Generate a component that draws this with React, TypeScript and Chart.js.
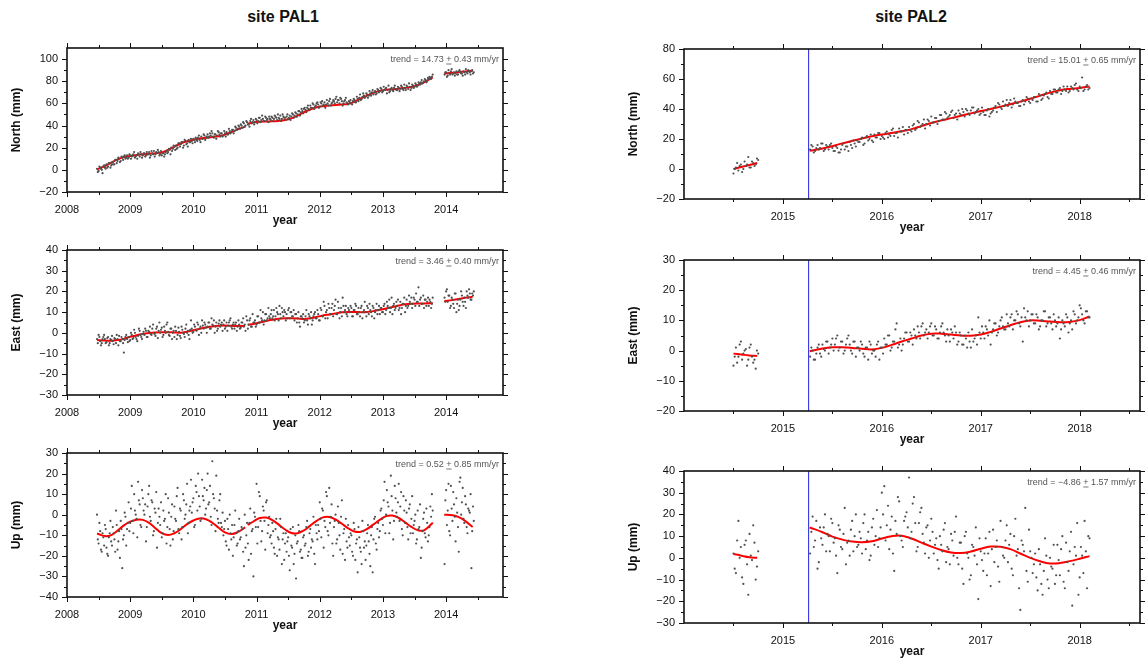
import React, { useEffect, useRef } from 'react';
import { Chart, registerables } from 'chart.js';
Chart.register(...registerables);

// ---------------- DATA ----------------
const STEP = 0.025; // sampling interval of each plotted solution list (yr)
const HALF = STEP / 2; // second, interleaved list

// PAL1 epochs
const pal1StartA = 2008.475;
const pal1StartB = 2013.975;
// PAL2 epochs
const pal2StartA = 2014.5;
const pal2StartB = 2015.275;
const pal2OffsetEpoch = 2015.26;

const pal1YearTicks = [2008, 2009, 2010, 2011, 2012, 2013, 2014];
const pal1YearMinor = [2008.5, 2009.5, 2010.5, 2011.5, 2012.5, 2013.5, 2014.5];
const pal2YearTicks = [2015, 2016, 2017, 2018];
const pal2YearMinor = [2014.5, 2015.5, 2016.5, 2017.5, 2018.5];

const pal1NorthTicks = [-20, 0, 20, 40, 60, 80, 100];
const pal1EastTicks = [-30, -20, -10, 0, 10, 20, 30, 40];
const pal1UpTicks = [-40, -30, -20, -10, 0, 10, 20, 30];
const pal2NorthTicks = [-20, 0, 20, 40, 60, 80];
const pal2EastTicks = [-20, -10, 0, 10, 20, 30];
const pal2UpTicks = [-30, -20, -10, 0, 10, 20, 30, 40];

const trendPal1 = ['14.73', '0.43', '3.46', '0.40', '0.52', '0.85'];
const trendPal2 = ['15.01', '0.65', '4.45', '0.46', '\u22124.86', '1.57'];

// PAL1 scatter (mm)
const pal1NorthA = [
  1, -1, 2, 0, 3, 2, 5, 3, 6, 4,
  7, 5, 9, 8, 10, 8, 11, 12, 10, 13,
  11, 13, 12, 14, 11, 13, 15, 12, 14, 13,
  15, 13, 14, 16, 13, 15, 17, 14, 15, 16,
  14, 13, 15, 14, 17, 16, 18, 20, 19, 21,
  22, 20, 24, 23, 25, 22, 26, 24, 27, 25,
  26, 28, 25, 27, 29, 27, 30, 28, 31, 29,
  32, 30, 31, 33, 29, 32, 31, 34, 30, 33,
  31, 33, 34, 32, 35, 34, 36, 35, 38, 37,
  39, 41, 38, 42, 40, 43, 41, 44, 42, 45,
  43, 45, 44, 47, 45, 46, 44, 47, 46, 48,
  45, 47, 46, 48, 45, 47, 49, 46, 48, 47,
  48, 46, 49, 48, 50, 49, 51, 50, 53, 52,
  53, 55, 54, 56, 55, 58, 56, 59, 57, 60,
  59, 57, 60, 58, 61, 59, 60, 62, 58, 61,
  62, 64, 61, 63, 65, 62, 60, 63, 61, 59,
  61, 60, 62, 63, 61, 64, 65, 63, 66, 67,
  66, 68, 67, 69, 70, 68, 71, 69, 72, 71,
  73, 71, 72, 74, 72, 70, 73, 72, 74, 73,
  72, 74, 73, 75, 72, 74, 76, 73, 75, 74,
  76, 75, 77, 76, 78, 79, 78, 80, 81, 80,
  82, 83, 84,
];
const pal1NorthA2 = [
  -2, 3, 1, -3, 4, 1, 2, 6, 2, 5,
  5, 9, 6, 11, 7, 12, 9, 13, 11, 10,
  14, 10, 13, 16, 12, 10, 14, 16, 11, 15,
  12, 16, 14, 11, 17, 14, 12, 16, 18, 13,
  17, 15, 12, 16, 15, 19, 14, 17, 22, 18,
  19, 24, 21, 25, 20, 27, 23, 21, 25, 28,
  24, 27, 29, 26, 31, 25, 28, 32, 27, 30,
  29, 33, 35, 30, 32, 28, 35, 32, 33, 30,
  35, 30, 32, 37, 33, 36, 33, 39, 36, 40,
  37, 40, 43, 39, 44, 41, 39, 46, 43, 41,
  46, 42, 47, 43, 49, 44, 48, 45, 43, 46,
  48, 44, 49, 47, 50, 46, 44, 50, 47, 45,
  50, 47, 45, 51, 47, 52, 48, 53, 49, 55,
  51, 56, 52, 58, 54, 56, 60, 55, 58, 61,
  56, 61, 62, 59, 56, 63, 58, 64, 60, 63,
  60, 66, 63, 60, 64, 58, 62, 65, 60, 62,
  63, 59, 64, 61, 66, 62, 68, 64, 69, 65,
  69, 65, 71, 67, 72, 70, 68, 73, 70, 74,
  70, 75, 73, 69, 76, 71, 74, 71, 76, 72,
  75, 71, 76, 73, 77, 72, 75, 78, 72, 77,
  74, 78, 75, 79, 77, 81, 79, 82, 79, 83,
  84, 82, 86,
];
const pal1NorthB = [86, 88, 85, 87, 89, 86, 88, 87, 86, 89, 88, 87, 89, 86, 88, 90, 88, 89, 87];
const pal1NorthB2 = [88, 84, 90, 86, 91, 87, 85, 89, 86, 90, 87, 85, 88, 91, 87, 89, 86, 90, 88];

const pal1EastA = [
  -3, -1, -4, -5, -2, -3, -4.5, -2, -5, -3.5,
  -4, -2.5, -5, -3, -1.5, -4, -3, -9.5, -2, -3,
  -2, -3.5, -1, -2.5, 0, -3, -1.5, 1, -2, -0.5,
  -1, 1, -2, 0.5, -0.5, 2, 0, -1.5, 3, 1,
  0, 2.5, -1, 1, 4, 0.5, -1.5, 2, 0, -2,
  1, -1, 0.5, -2.5, 1.5, -0.5, 2, 0, -1, 1.5,
  2, 0.5, 3, 1, 4, 2, 0, 3.5, 5, 2.5,
  3, 5, 2, 4, 6, 3, 1, 4.5, 3, 5,
  4, 2, 5, 3.5, 6, 3, 4, 2, 5, 3,
  4, 2.5, 5, 3, 1, 6, 4, 7, 3, 5,
  6, 4, 8, 5, 7, 10, 6, 9, 7, 8,
  9, 7, 11, 8, 10, 6, 9, 12, 8, 10,
  9, 11, 7, 10, 8, 6, 9, 7, 5, 8,
  7, 5, 8, 6, 9, 7, 4, 8, 10, 7,
  9, 6, 11, 8, 13, 10, 7, 12, 9, 14,
  11, 16, 9, 12, 10, 8, 13, 11, 9, 12,
  10, 12, 8, 11, 13, 9, 10, 12, 7, 11,
  10, 13, 9, 11, 8, 12, 10, 14, 11, 9,
  12, 10, 14, 11, 13, 16, 12, 9, 14, 12,
  13, 11, 15, 12, 14, 10, 16, 13, 15, 17,
  14, 16, 19, 15, 13, 17, 14, 12, 16, 15,
  13, 15, 14,
];
const pal1EastA2 = [
  -5, -2, -6, -3, -1, -5, -2.5, -6, -3, -1.5,
  -5.5, -3, -1, -6, -4, -2, -5, -3.5, -1, -4.5,
  -4, 0, -3, 1.5, -2, -4, 2, -1, -3, 0.5,
  2, -2, 1, 3, -1, 4, -0.5, 2, -2.5, 5,
  1.5, -2, 3, 0, 5, -1, 2, -3, 1, 3,
  -3, 2.5, -1.5, 3, 0, -2, 4, 1, -3, 6,
  0, 4, 1.5, 5, -1, 3, 6, 2, 4, 0,
  5, 2, 7, 3.5, 0, 5, 2, 6, 4, 1,
  6, 3, 1, 5, 7, 2, 5, 4, 1, 6,
  2, 5, 7, 4, 8, 2, 6, 3, 9, 5,
  3, 8, 5, 11, 6, 4, 9, 6, 12, 7,
  11, 8, 6, 12, 9, 13, 7, 10, 11, 6,
  7, 12, 10, 8, 11, 9, 5, 10, 3, 8,
  9, 6, 11, 4, 8, 10, 6, 9, 7, 11,
  6, 12, 8, 15, 7, 11, 14, 9, 12, 8,
  13, 9, 15, 7, 12, 17, 10, 13, 8, 11,
  13, 8, 11, 14, 9, 12, 8, 13, 10, 15,
  8, 12, 14, 10, 13, 7, 11, 9, 13, 12,
  10, 13, 9, 15, 12, 10, 17, 13, 11, 15,
  16, 12, 9, 14, 17, 13, 12, 18, 14, 12,
  17, 13, 15, 22, 16, 14, 18, 16, 13, 17,
  16, 12, 17,
];
const pal1EastB = [17, 20, 15, 18, 13, 16, 12, 19, 14, 11, 16, 18, 13, 15, 20, 17, 19, 16, 18];
const pal1EastB2 = [15, 21, 18, 12, 17, 14, 19, 10, 16, 13, 20, 15, 17, 12, 18, 21, 16, 19, 20];

const pal1UpA = [
  0, -14, -8, -18, -11, -5, -16, -20, -9, -13,
  -6, -12, 2, -17, -8, -3, -26, -10, -1, -7,
  6, -4, 14, -9, 2, -2, 16, 5, -6, 8,
  0, -13, 4, 14, -3, 6, -8, 1, -16, 3,
  -5, -11, 2, -2, -14, 8, -7, -1, -12, 4,
  -3, 13, -9, 2, -6, 7, 0, 15, -4, 4,
  1, 8, -5, 11, 20, 4, -2, 9, 13, 3,
  20, 6, -1, 26, 8, -8, 2, -4, 10, -6,
  -10, -3, -15, -7, 0, -12, -20, -5, -9, -14,
  -2, -11, -7, -25, -16, -4, -22, 3, -8, -30,
  -1, 15, -6, 9, -13, 4, -3, 6, -9, -1,
  -10, -4, -16, -7, -20, -12, -2, -24, -9, -14,
  -18, -11, -27, -15, -6, -19, -31, -13, -8, -17,
  -21, -10, -14, -3, -18, -7, -12, -1, -24, -9,
  -5, 6, -11, 2, -3, 11, -8, 13, -1, -14,
  -6, 0, -12, -4, -17, 7, -9, -22, -13, -5,
  -15, -10, -20, -7, -14, -28, -11, -18, -3, -16,
  -22, -9, -13, -25, -6, -12, -1, -17, -4, -8,
  3, -5, 16, 0, 6, -9, 19, 2, -3, 8,
  -1, 15, 4, -7, 9, -4, 1, -12, 5, -2,
  -9, -3, -14, 2, -6, -21, -8, 1, -11, -4,
  -10, 4, 10,
];
const pal1UpA2 = [
  -12, -4, -17, -9, -15, -7, -19, -11, -3, -15,
  -9, -18, -5, -13, -21, -7, -12, 1, -15, -4,
  -8, 3, -3, 10, 0, -11, 7, -5, 12, 2,
  5, -6, 10, -1, 7, -10, 3, 11, -4, -1,
  6, -9, -3, 10, -6, 1, -15, 5, -8, -2,
  9, -7, 3, -12, 10, -2, 5, -9, 2, 17,
  6, -6, 14, 2, 9, -3, 17, 7, 0, 12,
  5, 14, -5, 10, 3, 19, -2, 7, -4, 1,
  -7, -13, -2, -17, -9, -5, -11, 2, -15, -8,
  -12, -6, -18, 0, -10, -14, -4, -19, -7, 1,
  -6, -14, 11, -3, -8, 2, -17, 7, -5, -11,
  -14, -8, -19, -2, -11, -17, -6, -12, -22, -9,
  -13, -20, -7, -16, -24, -10, -14, -5, -18, -21,
  -11, -15, -6, -20, -9, -16, -13, -19, -5, -12,
  -8, -2, 3, -16, -6, 9, -10, -4, 5, -20,
  -3, -14, 4, -10, -1, -19, -7, -2, -16, -11,
  -9, -18, -4, -22, -12, -6, -16, -24, -8, -13,
  -15, -5, -19, -10, -28, -2, -14, -7, -11, 2,
  -2, 7, -9, 12, 4, -4, 9, -12, 14, 1,
  6, -3, 11, -10, 2, 7, -6, 3, -9, 9,
  -5, 0, -12, -7, 5, -16, -2, -9, 3, -13,
  -6, -1, 2,
];
const pal1UpB = [-24, 12, 2, -8, 14, -3, 5, -13, 1, -18, 18, 6, -2, 9, -6, 3, 1, -26, 4];
const pal1UpB2 = [7, -5, 15, -10, 3, 11, -1, 8, -6, 16, 0, 13, -4, 5, -9, 2, 10, -8, -3];

// PAL1 fitted model (red)
const pal1FitT1 = [2008.475, 2008.6, 2008.7, 2008.8, 2008.9, 2009.0, 2009.1, 2009.2, 2009.3, 2009.4, 2009.5, 2009.6, 2009.7, 2009.8, 2009.9, 2010.0, 2010.1, 2010.2, 2010.3, 2010.4, 2010.5, 2010.6, 2010.7, 2010.82];
const pal1FitT2 = [2010.86, 2010.95, 2011.05, 2011.15, 2011.25, 2011.35, 2011.45, 2011.55, 2011.65, 2011.75, 2011.85, 2011.95, 2012.05, 2012.15, 2012.25, 2012.35, 2012.45, 2012.55, 2012.65, 2012.75, 2012.85, 2012.95, 2013.05, 2013.15, 2013.25, 2013.35, 2013.45, 2013.55, 2013.65, 2013.79];
const pal1FitT3 = [2013.97, 2014.1, 2014.2, 2014.3, 2014.42];

const pal1NorthFit1 = [0.5, 3.5, 6.5, 9.5, 11.5, 12.5, 13.3, 14, 14.5, 15, 15.6, 18, 21, 23.8, 25.8, 27.2, 28.3, 29, 29.6, 30.3, 31.8, 34, 36.5, 39];
const pal1NorthFit2 = [41.5, 42.8, 43.5, 43.7, 43.8, 44.2, 45, 46.5, 49, 52, 54.5, 56.5, 57.5, 58, 58.5, 59, 59.5, 61.5, 64.5, 67, 69.5, 71.3, 72.2, 72.8, 73.3, 74, 74.8, 76.5, 79, 83.5];
const pal1NorthFit3 = [87, 87.6, 88.2, 88.8, 89.5];

const pal1EastFit1 = [-3.5, -3.7, -3.8, -3.5, -2.9, -1.9, -1.2, -0.6, -0.1, 0.2, 0.3, 0.3, 0.2, 0.1, 0.6, 1.3, 2.0, 2.6, 3.1, 3.4, 3.5, 3.4, 3.3, 3.4];
const pal1EastFit2 = [3.9, 4.3, 5.0, 5.7, 6.3, 6.8, 7.0, 7.0, 6.9, 6.7, 7.0, 7.7, 8.4, 8.9, 9.4, 9.9, 10.1, 10.1, 10.0, 10.1, 10.5, 11.1, 11.8, 12.5, 13.2, 13.8, 14.1, 14.2, 14.2, 14.3];
const pal1EastFit3 = [15.3, 15.8, 16.3, 16.9, 17.4];

const pal1UpFit1 = [-9.1, -10.4, -9.9, -7.7, -5.2, -3.4, -2.4, -2.5, -4.0, -6.6, -9.0, -9.9, -9.0, -7.0, -4.6, -2.8, -1.8, -2.2, -3.9, -6.3, -8.6, -9.4, -8.5, -6.2];
const pal1UpFit2 = [-5.0, -3.3, -1.6, -1.4, -2.6, -4.8, -7.2, -8.9, -9.0, -7.6, -5.3, -3.0, -1.3, -1.1, -2.3, -4.4, -6.6, -8.2, -8.3, -6.9, -4.7, -2.5, -0.7, -0.4, -1.6, -3.7, -5.9, -7.5, -7.6, -3.9];
const pal1UpFit3 = [0, -0.3, -1.2, -3.0, -6.0];

// PAL2 scatter (mm)
const pal2NorthA = [-3, 1, -1, 3, 0, 2, 8, 1, 4, 3, 6];
const pal2NorthA2 = [0, 4, 2, -2, 5, 3, 1, 5, 2, 7];
const pal2NorthB = [
  13, 15, 12, 16, 14, 17, 13, 15, 16, 14,
  12, 14, 11, 16, 13, 15, 18, 14, 17, 19,
  18, 21, 17, 22, 20, 19, 23, 21, 24, 22,
  20, 25, 23, 26, 22, 24, 27, 25, 23, 26,
  28, 25, 30, 27, 31, 29, 33, 30, 32, 35,
  31, 34, 32, 36, 33, 37, 35, 38, 34, 37,
  39, 36, 38, 40, 37, 39, 41, 38, 40, 37,
  38, 36, 40, 37, 39, 42, 44, 41, 45, 43,
  42, 46, 43, 45, 44, 42, 46, 45, 47, 44,
  46, 48, 45, 49, 47, 50, 48, 52, 50, 53,
  51, 54, 52, 53, 55, 52, 54, 56, 53, 55,
  61, 53, 56, 54,
];
const pal2NorthB2 = [
  16, 11, 14, 13, 17, 12, 16, 13, 17, 12,
  15, 11, 13, 17, 15, 12, 16, 19, 15, 18,
  20, 16, 21, 19, 23, 18, 21, 24, 20, 21,
  24, 21, 22, 27, 24, 21, 25, 28, 26, 24,
  26, 29, 26, 32, 28, 30, 27, 33, 29, 31,
  34, 30, 36, 33, 38, 34, 36, 39, 36, 33,
  37, 40, 35, 39, 36, 41, 37, 39, 36, 41,
  36, 39, 35, 38, 41, 38, 43, 40, 42, 46,
  44, 41, 47, 44, 42, 45, 43, 48, 45, 47,
  48, 45, 50, 46, 49, 51, 47, 50, 53, 51,
  53, 50, 55, 52, 51, 55, 53, 57, 52, 54,
  52, 55, 53,
];
const pal2EastA = [-5, 1, -2, 3, -1, 0.5, -3, 2, -4, -6, -1];
const pal2EastA2 = [-2, -4, 2, -3, 0, -5, 1, -2, -3, 0];
const pal2EastB = [
  -2, 0, -3, 1, -1, 2, 0, 3, 1, 4,
  2, 5, 1, 3, 0, 4, 2, -1, 3, 1,
  0, 2, -2, 1, 3, -1, 0, 2, -3, 1,
  4, 2, 5, 1, 3, 9, 2, 0, 4, 6,
  3, 5, 7, 4, 6, 8, 5, 7, 6, 9,
  5, 7, 4, 8, 6, 3, 5, 7, 4, 6,
  3, 5, 2, 4, 6, 1, 3, 5, 11, 4,
  6, 8, 5, 2, 7, 9, 6, 10, 8, 7,
  9, 11, 7, 10, 12, 8, 3, 11, 13, 10,
  12, 9, 11, 8, 10, 13, 9, 11, 7, 10,
  9, 4, 10, 8, 11, 9, 7, 12, 10, 15,
  12, 9, 13, 11,
];
const pal2EastB2 = [
  1, -3, -1, 2, -2, 0.5, 3, -1, 2, 0,
  4, 0, 3, -1, 2, 5, 0, 3, -2, 1,
  3, -1, 1, -3, 2, 0, -2, 3, 1, -1,
  2, 5, 0, 3, 7, 1, 4, 2, 6, 3,
  6, 2, 5, 8, 4, 9, 6, 4, 8, 5,
  8, 4, 6, 9, 5, 7, 3, 6, 8, 2,
  6, 2, 5, 1, 3, 7, 4, 2, 6, 8,
  4, 7, 10, 6, 9, 5, 8, 11, 7, 12,
  8, 12, 10, 13, 9, 11, 14, 10, 8, 12,
  9, 12, 7, 10, 13, 8, 11, 9, 12, 8,
  11, 7, 9, 12, 6, 10, 13, 9, 11, 14,
  10, 13, 11,
];
const pal2UpA = [2, -7, 17, 5, -12, 8, -17, 1, 15, -10, 3];
const pal2UpA2 = [-5, 8, 0, -9, 6, -3, 11, -1, 7, -4];
const pal2UpB = [
  2, 19, 8, -5, 14, 6, 20, 11, 3, 16,
  9, -7, 13, 4, 23, 7, 1, 17, 10, 5,
  12, 2, 20, 8, -1, 14, 6, 22, 9, 30,
  33, 15, 4, 19, -6, 11, 26, 8, 17, 21,
  37, 12, 28, 3, 16, 23, 7, 14, 0, 18,
  2, 9, -5, 6, 13, -2, 4, 11, 1, 19,
  -3, 7, -12, 12, 0, -8, 5, 14, -19, 3,
  -6, 9, 2, -13, 13, 5, -4, 17, 1, 8,
  -2, 11, -8, 18, 4, -24, 6, 23, -11, 3,
  -7, 2, -15, -3, -17, 9, -10, 0, -5, -12,
  6, -8, 10, -14, -2, 3, -22, 5, 16, -9,
  1, 17, -14, 9,
];
const pal2UpB2 = [
  12, 5, 17, -2, 9, 14, 3, 10, 18, 7,
  1, 15, 5, 11, -3, 8, 13, 3, 20, 6,
  9, 16, 4, 12, 1, 18, 10, 5, 14, 20,
  8, 24, 13, 2, 17, 28, 10, 5, 19, 14,
  9, 25, 16, 5, 21, 11, 2, 15, 8, 12,
  6, -1, 10, 3, 16, 5, -3, 8, 12, 0,
  7, -5, 10, 2, -10, 6, 1, -3, 9, -1,
  2, -8, 12, 4, -2, 8, -11, 5, 0, 15,
  6, -5, 10, 1, -14, 8, 3, -6, 13, 0,
  -3, -9, 4, -12, -6, 1, -14, -4, 6, -8,
  -1, 4, -11, 7, -6, 12, -3, 1, -17, 5,
  -7, 3, 10,
];

// PAL2 fitted model (red)
const pal2FitTA = [2014.5, 2014.58, 2014.66, 2014.74];
const pal2FitTB = [2015.27, 2015.4, 2015.5, 2015.6, 2015.7, 2015.8, 2015.9, 2016.0, 2016.1, 2016.2, 2016.3, 2016.4, 2016.5, 2016.6, 2016.7, 2016.8, 2016.9, 2017.0, 2017.1, 2017.2, 2017.3, 2017.4, 2017.5, 2017.6, 2017.7, 2017.8, 2017.9, 2018.0, 2018.1];
const pal2NorthFitA = [0, 1.3, 2.7, 4];
const pal2NorthFitB = [12.1, 13.7, 15.2, 17.1, 18.8, 20.4, 21.8, 23, 24, 25.1, 26.6, 28.6, 30.7, 32.4, 33.9, 35.5, 37.1, 38.6, 40, 41.6, 43.2, 44.9, 46.8, 48.9, 50.9, 52.5, 53.4, 54, 55];
const pal2EastFitA = [-1.0, -1.3, -1.6, -1.8];
const pal2EastFitB = [-0.2, 0.7, 1.1, 1.1, 0.9, 0.6, 0.4, 0.9, 1.9, 3.0, 4.0, 5.0, 5.6, 5.6, 5.3, 5.0, 4.9, 5.3, 6.2, 7.3, 8.4, 9.4, 10.0, 9.9, 9.6, 9.4, 9.5, 10.1, 11.3];
const pal2UpFitA = [1.8, 1.0, 0.3, 0];
const pal2UpFitB = [14, 11.8, 9.8, 8.4, 7.5, 7.2, 7.6, 8.9, 10.0, 10.2, 8.9, 7.0, 5.2, 3.6, 2.5, 2.2, 2.9, 4.2, 5.2, 5.1, 4.0, 2.0, 0.0, -1.6, -2.6, -2.4, -1.5, -0.4, 0.8];

// ---------------- STYLE / LAYOUT ----------------
const FONT = '"Liberation Sans", Arial, Helvetica, sans-serif';
const PAD_L = 67;
const PAD_R = 8;
const PAD_T = 12;
const PAD_B = 42;

type Pt = { x: number; y: number };
const sampled = (start: number, vals: number[]): Pt[] => vals.map((v, i) => ({ x: start + i * STEP, y: v }));
const curve = (ts: number[], vals: number[]): Pt[] => ts.map((t, i) => ({ x: t, y: vals[i] }));
const mids = (arr: number[]) => arr.slice(1).map((v, i) => (v + arr[i]) / 2);

interface PanelCfg {
  frame: { l: number; t: number; r: number; b: number };
  xMin: number; xMax: number; yMin: number; yMax: number;
  xTicks: number[]; xMinor: number[]; yTicks: number[];
  yTitle: string; rate: string; err: string;
  scatter: Pt[][]; fits: Pt[][]; offset?: number;
}

const panels: PanelCfg[] = [
  {
    frame: { l: 67, t: 48, r: 503, b: 192 }, xMin: 2008, xMax: 2014.9, yMin: -20, yMax: 110,
    xTicks: pal1YearTicks, xMinor: pal1YearMinor, yTicks: pal1NorthTicks, yTitle: 'North (mm)',
    rate: trendPal1[0], err: trendPal1[1],
    scatter: [sampled(pal1StartA, pal1NorthA), sampled(pal1StartA + HALF, pal1NorthA2), sampled(pal1StartB, pal1NorthB), sampled(pal1StartB + HALF, pal1NorthB2)],
    fits: [curve(pal1FitT1, pal1NorthFit1), curve(pal1FitT2, pal1NorthFit2), curve(pal1FitT3, pal1NorthFit3)],
  },
  {
    frame: { l: 67, t: 250, r: 503, b: 395 }, xMin: 2008, xMax: 2014.9, yMin: -30, yMax: 40,
    xTicks: pal1YearTicks, xMinor: pal1YearMinor, yTicks: pal1EastTicks, yTitle: 'East (mm)',
    rate: trendPal1[2], err: trendPal1[3],
    scatter: [sampled(pal1StartA, pal1EastA), sampled(pal1StartA + HALF, pal1EastA2), sampled(pal1StartB, pal1EastB), sampled(pal1StartB + HALF, pal1EastB2)],
    fits: [curve(pal1FitT1, pal1EastFit1), curve(pal1FitT2, pal1EastFit2), curve(pal1FitT3, pal1EastFit3)],
  },
  {
    frame: { l: 67, t: 453, r: 503, b: 597 }, xMin: 2008, xMax: 2014.9, yMin: -40, yMax: 30,
    xTicks: pal1YearTicks, xMinor: pal1YearMinor, yTicks: pal1UpTicks, yTitle: 'Up (mm)',
    rate: trendPal1[4], err: trendPal1[5],
    scatter: [sampled(pal1StartA, pal1UpA), sampled(pal1StartA + HALF, pal1UpA2), sampled(pal1StartB, pal1UpB), sampled(pal1StartB + HALF, pal1UpB2)],
    fits: [curve(pal1FitT1, pal1UpFit1), curve(pal1FitT2, pal1UpFit2), curve(pal1FitT3, pal1UpFit3)],
  },
  {
    frame: { l: 684, t: 49, r: 1140, b: 199 }, xMin: 2014, xMax: 2018.61, yMin: -20, yMax: 80,
    xTicks: pal2YearTicks, xMinor: pal2YearMinor, yTicks: pal2NorthTicks, yTitle: 'North (mm)',
    rate: trendPal2[0], err: trendPal2[1],
    scatter: [sampled(pal2StartA, pal2NorthA), sampled(pal2StartA + HALF, pal2NorthA2), sampled(pal2StartB, pal2NorthB), sampled(pal2StartB + HALF, pal2NorthB2)],
    fits: [curve(pal2FitTA, pal2NorthFitA), curve(pal2FitTB, pal2NorthFitB)], offset: pal2OffsetEpoch,
  },
  {
    frame: { l: 684, t: 260, r: 1140, b: 411 }, xMin: 2014, xMax: 2018.61, yMin: -20, yMax: 30,
    xTicks: pal2YearTicks, xMinor: pal2YearMinor, yTicks: pal2EastTicks, yTitle: 'East (mm)',
    rate: trendPal2[2], err: trendPal2[3],
    scatter: [sampled(pal2StartA, pal2EastA), sampled(pal2StartA + HALF, pal2EastA2), sampled(pal2StartB, pal2EastB), sampled(pal2StartB + HALF, pal2EastB2)],
    fits: [curve(pal2FitTA, pal2EastFitA), curve(pal2FitTB, pal2EastFitB)], offset: pal2OffsetEpoch,
  },
  {
    frame: { l: 684, t: 471, r: 1140, b: 623 }, xMin: 2014, xMax: 2018.61, yMin: -30, yMax: 40,
    xTicks: pal2YearTicks, xMinor: pal2YearMinor, yTicks: pal2UpTicks, yTitle: 'Up (mm)',
    rate: trendPal2[4], err: trendPal2[5],
    scatter: [sampled(pal2StartA, pal2UpA), sampled(pal2StartA + HALF, pal2UpA2), sampled(pal2StartB, pal2UpB), sampled(pal2StartB + HALF, pal2UpB2)],
    fits: [curve(pal2FitTA, pal2UpFitA), curve(pal2FitTB, pal2UpFitB)], offset: pal2OffsetEpoch,
  },
];

const framePlugin = {
  id: 'gmtFrame',
  afterDraw(chart: any, _args: any, opts: any) {
    const { ctx, chartArea: a, scales } = chart;
    const xs = scales.x, ys = scales.y;
    ctx.save();
    ctx.strokeStyle = '#111';
    ctx.lineWidth = 1;
    const seg = (x1: number, y1: number, x2: number, y2: number) => {
      ctx.beginPath(); ctx.moveTo(x1, y1); ctx.lineTo(x2, y2); ctx.stroke();
    };
    const xt: [number[], number][] = [[opts.xMajor, 5], [opts.xMinor, 3]];
    for (const [vals, len] of xt) {
      for (const v of vals) {
        const px = Math.round(xs.getPixelForValue(v)) + 0.5;
        if (px < a.left - 0.5 || px > a.right + 0.5) continue;
        seg(px, a.bottom, px, a.bottom + len);
        seg(px, a.top, px, a.top - len);
      }
    }
    const yt: [number[], number][] = [[opts.yMajor, 5], [mids(opts.yMajor), 3]];
    for (const [vals, len] of yt) {
      for (const v of vals) {
        const py = Math.round(ys.getPixelForValue(v)) + 0.5;
        if (py < a.top - 0.5 || py > a.bottom + 0.5) continue;
        seg(a.left, py, a.left - len, py);
        seg(a.right, py, a.right + len, py);
      }
    }
    ctx.lineWidth = 1.6;
    ctx.strokeRect(a.left, a.top, a.right - a.left, a.bottom - a.top);

    // axis titles
    ctx.fillStyle = '#111';
    ctx.font = `bold 12px ${FONT}`;
    ctx.textAlign = 'center';
    ctx.textBaseline = 'middle';
    ctx.fillText('year', (a.left + a.right) / 2, a.bottom + 29);
    ctx.save();
    ctx.translate(a.left - 50, (a.top + a.bottom) / 2);
    ctx.rotate(-Math.PI / 2);
    ctx.fillText(opts.yTitle, 0, 0);
    ctx.restore();

    // trend annotation
    ctx.font = `9px ${FONT}`;
    ctx.fillStyle = '#555';
    ctx.strokeStyle = '#555';
    ctx.textAlign = 'left';
    ctx.textBaseline = 'alphabetic';
    const p1 = `trend = ${opts.rate} `;
    const p2 = '+';
    const p3 = ` ${opts.err} mm/yr`;
    const w1 = ctx.measureText(p1).width, w2 = ctx.measureText(p2).width, w3 = ctx.measureText(p3).width;
    const x0 = a.right - 4 - (w1 + w2 + w3);
    const yb = a.top + 14;
    ctx.fillText(p1, x0, yb);
    ctx.fillText(p2, x0 + w1, yb);
    ctx.fillText(p3, x0 + w1 + w2, yb);
    ctx.lineWidth = 0.8;
    seg(x0 + w1, yb + 2, x0 + w1 + w2, yb + 2);
    ctx.restore();
  },
};

const fmtY = (v: number) => (v < 0 ? '\u2212' + Math.abs(v) : String(v));

function Panel({ cfg }: { cfg: PanelCfg }) {
  const ref = useRef<HTMLCanvasElement>(null);
  const w = cfg.frame.r - cfg.frame.l + PAD_L + PAD_R;
  const h = cfg.frame.b - cfg.frame.t + PAD_T + PAD_B;
  useEffect(() => {
    const datasets: any[] = [];
    cfg.scatter.forEach((d) =>
      datasets.push({ data: d, showLine: false, pointRadius: 1.1, pointBorderWidth: 0, pointBackgroundColor: '#505050', pointBorderColor: '#505050' })
    );
    cfg.fits.forEach((d) =>
      datasets.push({ data: d, showLine: true, pointRadius: 0, borderColor: '#ff0000', borderWidth: 2, tension: 0.4 })
    );
    if (cfg.offset !== undefined) {
      datasets.push({
        data: [{ x: cfg.offset, y: cfg.yMin }, { x: cfg.offset, y: cfg.yMax }],
        showLine: true, pointRadius: 0, borderColor: '#2222dd', borderWidth: 1, tension: 0,
      });
    }
    const tickFont = { family: FONT, size: 11 };
    const chart = new Chart(ref.current as HTMLCanvasElement, {
      type: 'scatter',
      data: { datasets },
      options: {
        responsive: false,
        animation: false,
        devicePixelRatio: 1,
        layout: { padding: { left: 0, right: PAD_R, top: PAD_T, bottom: 0 } },
        plugins: {
          legend: { display: false },
          tooltip: { enabled: false },
          gmtFrame: { xMajor: cfg.xTicks, xMinor: cfg.xMinor, yMajor: cfg.yTicks, yTitle: cfg.yTitle, rate: cfg.rate, err: cfg.err },
        } as any,
        scales: {
          x: {
            type: 'linear', min: cfg.xMin, max: cfg.xMax,
            grid: { display: false, drawTicks: true, tickLength: 5 },
            border: { display: false },
            afterBuildTicks: (s: any) => { s.ticks = cfg.xTicks.map((v) => ({ value: v })); },
            afterFit: (s: any) => { s.height = PAD_B; },
            ticks: { autoSkip: false, maxRotation: 0, padding: 6, color: '#111', font: tickFont, callback: (v: any) => String(v) },
          },
          y: {
            type: 'linear', min: cfg.yMin, max: cfg.yMax,
            grid: { display: false, drawTicks: true, tickLength: 5 },
            border: { display: false },
            afterBuildTicks: (s: any) => { s.ticks = cfg.yTicks.map((v) => ({ value: v })); },
            afterFit: (s: any) => { s.width = PAD_L; },
            ticks: { autoSkip: false, padding: 4, color: '#111', font: tickFont, callback: (v: any) => fmtY(Number(v)) },
          },
        },
      },
      plugins: [framePlugin],
    } as any);
    return () => chart.destroy();
  }, []);
  return (
    <canvas
      ref={ref}
      width={w}
      height={h}
      style={{ position: 'absolute', left: cfg.frame.l - PAD_L, top: cfg.frame.t - PAD_T, width: w, height: h }}
    />
  );
}

const titleStyle = (cx: number): React.CSSProperties => ({
  position: 'absolute', left: cx - 100, top: 8, width: 200, height: 20, lineHeight: '20px',
  textAlign: 'center', font: `bold 16px ${FONT}`, color: '#111',
});

export default function App() {
  return (
    <div style={{ position: 'absolute', left: 0, top: 0, width: 1145, height: 659, background: '#fff', overflow: 'hidden' }}>
      <div style={titleStyle(283)}>site PAL1</div>
      <div style={titleStyle(911)}>site PAL2</div>
      {panels.map((p, i) => (
        <Panel key={i} cfg={p} />
      ))}
    </div>
  );
}
